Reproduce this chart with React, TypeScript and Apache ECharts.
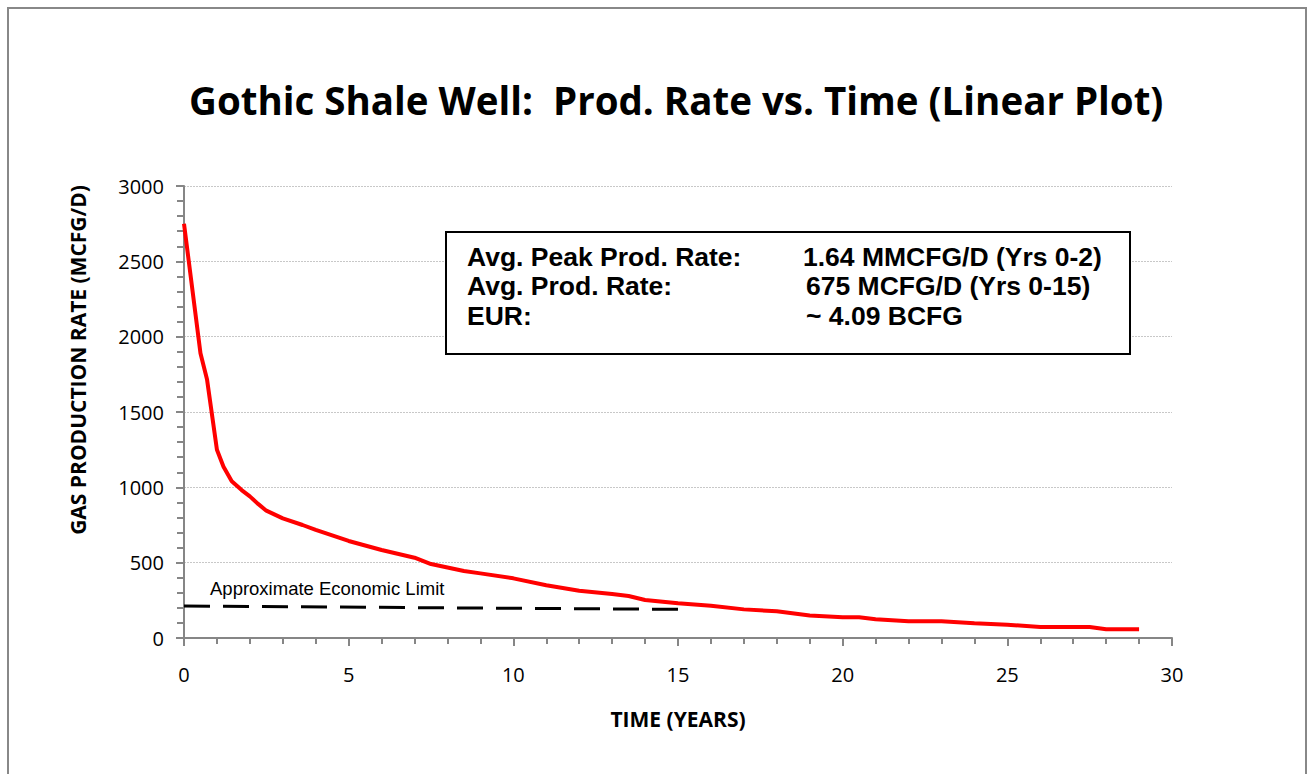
import React, { useEffect, useRef } from "react";
import * as echarts from "echarts";

const years = [0, 0.5, 0.7, 1.0, 1.2, 1.45, 1.75, 2.0, 2.25, 2.5, 3.0, 3.6, 4.0, 5.0, 6.0, 7.0, 7.5, 8.5, 9.0, 10.0, 11.0, 12.0, 13.0, 13.5, 14.0, 15.0, 16.0, 17.0, 18.0, 19.0, 20.0, 20.5, 21.0, 22.0, 23.0, 24.0, 25.0, 26.0, 27.0, 27.5, 28.0, 29.0];
const rates = [2750, 1890, 1715, 1250, 1137, 1040, 982, 940, 890, 845, 794, 750, 717, 644, 584, 533, 491, 445, 429, 396, 350, 314, 292, 279, 252, 230, 214, 190, 177, 150, 137, 137, 124, 111, 111, 98, 88, 73, 73, 73, 58, 58];

const limitYears = [0, 15];
const limitRates = [212, 190];

const title = "Gothic Shale Well:  Prod. Rate vs. Time (Linear Plot)";
const xName = "TIME (YEARS)";
const yName = "GAS PRODUCTION RATE (MCFG/D)";
const limitLabel = "Approximate Economic Limit";
const boxLabels = ["Avg. Peak Prod. Rate:", "Avg. Prod. Rate:", "EUR:"];
const boxValues = ["1.64 MMCFG/D (Yrs 0-2)", "675 MCFG/D (Yrs 0-15)", "~ 4.09 BCFG"];

export default function App() {
  const ref = useRef<HTMLDivElement>(null);
  useEffect(() => {
    if (!ref.current) return;
    const chart = echarts.init(ref.current, null, { renderer: "svg" });
    const boxFont = "bold 26.5px 'Liberation Sans', Arial, sans-serif";
    const boxTexts: any[] = [];
    const rowY = [257, 286, 316];
    const valueX = [803, 806, 806];
    boxLabels.forEach((t, i) => {
      boxTexts.push({
        type: "text",
        x: 467,
        y: rowY[i],
        style: { text: t, font: boxFont, fill: "#000", textVerticalAlign: "middle", verticalAlign: "middle" },
      });
      boxTexts.push({
        type: "text",
        x: valueX[i],
        y: rowY[i],
        style: { text: boxValues[i], font: boxFont, fill: "#000", textVerticalAlign: "middle", verticalAlign: "middle" },
      });
    });
    const option: any = {
      animation: false,
      backgroundColor: "#fff",
      title: {
        text: title,
        left: 184,
        top: 75,
        textStyle: { fontFamily: "'Open Sans', sans-serif", fontWeight: "bold", fontSize: 38.5, color: "#000" },
      },
      grid: { left: 184, right: 136, top: 186, bottom: 136, containLabel: false },
      xAxis: {
        type: "value",
        min: 0,
        max: 30,
        interval: 5,
        name: xName,
        nameLocation: "middle",
        nameGap: 70,
        nameTextStyle: { fontFamily: "'Open Sans', sans-serif", fontWeight: "bold", fontSize: 21, color: "#000" },
        axisLine: { show: true, lineStyle: { color: "#868686", width: 2 } },
        axisTick: { show: true, length: 8, lineStyle: { color: "#868686", width: 2 } },
        minorTick: { show: true, splitNumber: 5, length: 6, lineStyle: { color: "#868686", width: 2 } },
        axisLabel: { margin: 26, fontFamily: "'Open Sans', sans-serif", fontSize: 20, color: "#000" },
        splitLine: { show: false },
      },
      yAxis: {
        type: "value",
        min: 0,
        max: 3000,
        interval: 500,
        axisLine: { show: true, lineStyle: { color: "#868686", width: 2 } },
        axisTick: { show: true, length: 8, lineStyle: { color: "#868686", width: 2 } },
        minorTick: { show: true, splitNumber: 5, length: 7, lineStyle: { color: "#868686", width: 2 } },
        axisLabel: { margin: 20, fontFamily: "'Open Sans', sans-serif", fontSize: 20, color: "#000", formatter: (v: number) => String(v) },
        splitLine: { show: true, lineStyle: { color: "#c8c8c8", width: 1, type: [2, 1] } },
      },
      series: [
        {
          type: "line",
          data: limitYears.map((x, i) => [x, limitRates[i]]),
          symbol: "none",
          lineStyle: { color: "#000", width: 3, type: [26, 13] },
          z: 3,
        },
        {
          type: "line",
          data: years.map((x, i) => [x, rates[i]]),
          symbol: "none",
          lineStyle: { color: "#ff0000", width: 4 },
          z: 4,
        },
      ],
      graphic: [
        {
          type: "rect",
          shape: { x: 8, y: 8, width: 1298, height: 820 },
          style: { fill: "none", stroke: "#888", lineWidth: 2 },
          silent: true,
        },
        {
          type: "rect",
          shape: { x: 446, y: 232, width: 684, height: 122 },
          style: { fill: "#fff", stroke: "#000", lineWidth: 2 },
          z: 10,
        },
        ...boxTexts.map((t) => ({ ...t, z: 11 })),
        {
          type: "text",
          x: 210,
          y: 588,
          style: { text: limitLabel, font: "18.5px 'Liberation Sans', Arial, sans-serif", fill: "#000", textVerticalAlign: "middle", verticalAlign: "middle" },
          z: 10,
        },
        {
          type: "text",
          x: 78,
          y: 360,
          rotation: Math.PI / 2,
          style: {
            text: yName,
            font: "bold 21px 'Open Sans', sans-serif",
            fill: "#000",
            textAlign: "center",
            align: "center",
            textVerticalAlign: "middle",
            verticalAlign: "middle",
          },
          z: 10,
        },
      ],
    };
    chart.setOption(option);
    return () => chart.dispose();
  }, []);
  return <div ref={ref} style={{ position: "fixed", left: 0, top: 0, width: 1308, height: 774 }} />;
}
